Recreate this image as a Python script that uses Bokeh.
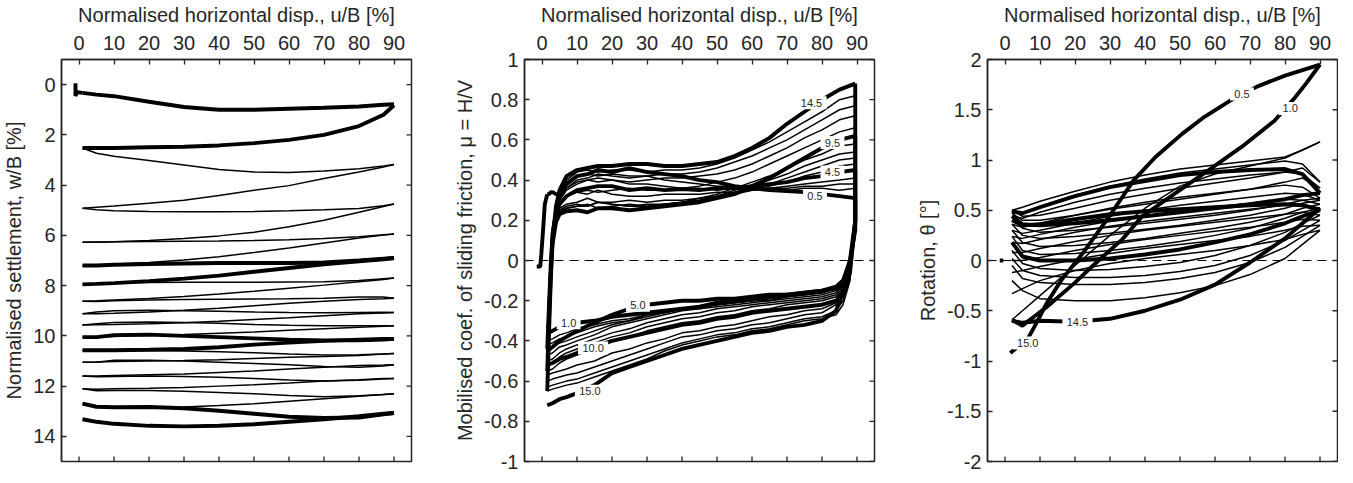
from bokeh.plotting import figure
from bokeh.layouts import row
from bokeh.models import Range1d, FixedTicker, Span, LabelSet, ColumnDataSource
from bokeh.core.properties import value
from bokeh.embed import file_html
from bokeh.resources import INLINE

FONT = "Liberation Sans"
INK = "#262626"

x_title = "Normalised horizontal disp., u/B [%]"
u_ticks = [0, 10, 20, 30, 40, 50, 60, 70, 80, 90]

# ---------------- Panel 1: settlement ----------------
settle_ticks = [0, 2, 4, 6, 8, 10, 12, 14]
settle_u = [1, 5, 10, 20, 30, 40, 50, 60, 70, 80, 87, 90]
settle_start_u = [-1, -1, -0.5, 1]
settle_start_w = [-0.05, 0.45, 0.3, 0.33]
# outgoing half-cycles 0.5 ... 14.5 (u: 0 -> 90)
settle_out = [
    [0.33, 0.40, 0.46, 0.68, 0.89, 1.00, 1.00, 0.96, 0.92, 0.87, 0.80, 0.78],
    [2.52, 2.73, 2.85, 3.02, 3.20, 3.38, 3.48, 3.50, 3.44, 3.35, 3.24, 3.18],
    [4.92, 4.98, 5.02, 5.05, 5.06, 5.06, 5.05, 5.02, 4.98, 4.93, 4.82, 4.75],
    [6.27, 6.27, 6.25, 6.24, 6.23, 6.22, 6.20, 6.17, 6.12, 6.05, 5.98, 5.95],
    [7.20, 7.20, 7.17, 7.14, 7.12, 7.10, 7.10, 7.10, 7.08, 7.00, 6.93, 6.90],
    [7.95, 7.93, 7.90, 7.88, 7.87, 7.87, 7.87, 7.86, 7.85, 7.80, 7.73, 7.70],
    [8.62, 8.63, 8.60, 8.57, 8.55, 8.54, 8.53, 8.52, 8.50, 8.45, 8.45, 8.50],
    [9.12, 9.05, 9.00, 8.98, 9.00, 9.02, 9.05, 9.07, 9.08, 9.07, 9.06, 9.07],
    [9.57, 9.52, 9.47, 9.45, 9.47, 9.50, 9.55, 9.58, 9.60, 9.60, 9.60, 9.60],
    [10.05, 10.05, 9.97, 9.95, 10.00, 10.05, 10.10, 10.15, 10.18, 10.18, 10.15, 10.12],
    [10.57, 10.57, 10.56, 10.58, 10.60, 10.63, 10.67, 10.72, 10.76, 10.75, 10.72, 10.70],
    [11.05, 11.05, 10.97, 10.97, 11.00, 11.05, 11.10, 11.15, 11.22, 11.25, 11.20, 11.15],
    [11.60, 11.63, 11.62, 11.60, 11.62, 11.65, 11.70, 11.76, 11.80, 11.77, 11.72, 11.70],
    [12.10, 12.18, 12.17, 12.17, 12.20, 12.25, 12.30, 12.37, 12.42, 12.38, 12.33, 12.30],
    [12.70, 12.82, 12.84, 12.83, 12.88, 12.98, 13.10, 13.22, 13.27, 13.25, 13.12, 13.07],
]
# return half-cycles 1.0 ... 15.0 (u: 90 -> 0), listed at settle_u
settle_ret = [
    [2.52, 2.52, 2.52, 2.49, 2.47, 2.42, 2.33, 2.20, 2.00, 1.65, 1.20, 0.82],
    [4.92, 4.88, 4.83, 4.72, 4.60, 4.41, 4.20, 4.02, 3.74, 3.48, 3.28, 3.18],
    [6.27, 6.26, 6.25, 6.20, 6.12, 6.02, 5.88, 5.66, 5.40, 5.08, 4.85, 4.75],
    [7.20, 7.18, 7.15, 7.08, 6.98, 6.85, 6.68, 6.50, 6.30, 6.10, 5.99, 5.95],
    [7.95, 7.93, 7.90, 7.82, 7.72, 7.60, 7.45, 7.30, 7.15, 7.03, 6.95, 6.90],
    [8.62, 8.60, 8.57, 8.51, 8.43, 8.33, 8.22, 8.10, 7.98, 7.85, 7.76, 7.70],
    [9.12, 9.12, 9.10, 9.05, 8.98, 8.90, 8.80, 8.70, 8.62, 8.55, 8.52, 8.50],
    [9.57, 9.56, 9.55, 9.52, 9.48, 9.42, 9.35, 9.28, 9.20, 9.12, 9.09, 9.07],
    [10.05, 10.04, 10.02, 9.98, 9.95, 9.90, 9.85, 9.78, 9.72, 9.66, 9.62, 9.60],
    [10.57, 10.57, 10.57, 10.55, 10.52, 10.45, 10.35, 10.27, 10.20, 10.15, 10.12, 10.12],
    [11.05, 11.04, 11.02, 11.00, 10.98, 10.95, 10.90, 10.85, 10.82, 10.78, 10.72, 10.70],
    [11.60, 11.60, 11.58, 11.55, 11.52, 11.46, 11.40, 11.32, 11.25, 11.18, 11.16, 11.15],
    [12.10, 12.12, 12.10, 12.08, 12.05, 12.00, 11.95, 11.88, 11.80, 11.75, 11.70, 11.70],
    [12.70, 12.82, 12.85, 12.84, 12.83, 12.77, 12.70, 12.60, 12.50, 12.40, 12.33, 12.30],
    [13.32, 13.42, 13.50, 13.58, 13.60, 13.58, 13.52, 13.42, 13.32, 13.20, 13.10, 13.07],
]
thick_cycles = [0, 4, 9, 14]   # cycles 1, 5, 10, 15

# ---------------- Panel 2: mobilised friction ----------------
mu_ticks = [-1, -0.8, -0.6, -0.4, -0.2, 0, 0.2, 0.4, 0.6, 0.8, 1]
mu_tick_labels = ["-1", "-0.8", "-0.6", "-0.4", "-0.2", "0", "0.2", "0.4", "0.6", "0.8", "1"]
mu_start_u = [-1.5, -0.5, -0.2, 0.3, 0.8, 1.5]
mu_start = [-0.03, -0.03, 0.03, 0.15, 0.28, 0.33]
mu_u_out = [1.5, 2, 2.5, 3, 4, 5, 7, 10, 13, 16, 20, 25, 30, 35, 40, 45, 50, 55, 60, 65, 70, 75, 80, 85, 89.5]
mu_out = [
    [0.33, 0.33, 0.34, 0.34, 0.33, 0.33, 0.38, 0.42, 0.43, 0.45, 0.44, 0.46, 0.44, 0.43, 0.42, 0.40, 0.39, 0.37, 0.36, 0.35, 0.345, 0.34, 0.33, 0.32, 0.31],
    [-0.36, -0.15, 0.05, 0.17, 0.26, 0.31, 0.36, 0.40, 0.41, 0.43, 0.42, 0.41, 0.42, 0.40, 0.39, 0.38, 0.37, 0.37, 0.36, 0.36, 0.35, 0.36, 0.36, 0.35, 0.36],
    [-0.40, -0.18, 0.02, 0.15, 0.25, 0.30, 0.35, 0.38, 0.40, 0.39, 0.40, 0.38, 0.38, 0.37, 0.36, 0.36, 0.35, 0.36, 0.35, 0.36, 0.36, 0.37, 0.37, 0.38, 0.38],
    [-0.42, -0.20, 0.00, 0.14, 0.24, 0.28, 0.32, 0.34, 0.33, 0.35, 0.33, 0.32, 0.32, 0.33, 0.33, 0.33, 0.34, 0.34, 0.35, 0.36, 0.37, 0.38, 0.39, 0.40, 0.41],
    [-0.44, -0.22, -0.02, 0.13, 0.24, 0.28, 0.32, 0.35, 0.36, 0.37, 0.37, 0.35, 0.36, 0.35, 0.355, 0.35, 0.36, 0.36, 0.37, 0.38, 0.39, 0.41, 0.42, 0.44, 0.45],
    [-0.45, -0.22, -0.03, 0.12, 0.22, 0.26, 0.28, 0.29, 0.31, 0.29, 0.29, 0.30, 0.29, 0.30, 0.30, 0.31, 0.32, 0.33, 0.35, 0.37, 0.39, 0.42, 0.44, 0.47, 0.48],
    [-0.47, -0.24, -0.04, 0.11, 0.21, 0.25, 0.27, 0.28, 0.27, 0.29, 0.28, 0.27, 0.28, 0.28, 0.29, 0.30, 0.32, 0.34, 0.36, 0.38, 0.41, 0.44, 0.47, 0.50, 0.51],
    [-0.50, -0.25, -0.05, 0.10, 0.20, 0.24, 0.26, 0.27, 0.28, 0.26, 0.27, 0.28, 0.27, 0.28, 0.29, 0.30, 0.32, 0.35, 0.37, 0.40, 0.43, 0.47, 0.50, 0.53, 0.54],
    [-0.52, -0.27, -0.06, 0.09, 0.20, 0.24, 0.26, 0.27, 0.27, 0.29, 0.28, 0.27, 0.27, 0.28, 0.29, 0.31, 0.33, 0.36, 0.39, 0.42, 0.46, 0.50, 0.53, 0.57, 0.58],
    [-0.55, -0.28, -0.07, 0.08, 0.19, 0.23, 0.245, 0.25, 0.24, 0.26, 0.26, 0.25, 0.26, 0.27, 0.28, 0.29, 0.31, 0.33, 0.37, 0.41, 0.46, 0.51, 0.56, 0.60, 0.62],
    [-0.52, -0.27, -0.06, 0.10, 0.22, 0.28, 0.32, 0.34, 0.35, 0.34, 0.35, 0.36, 0.35, 0.35, 0.36, 0.37, 0.39, 0.41, 0.44, 0.48, 0.52, 0.56, 0.60, 0.64, 0.66],
    [-0.57, -0.30, -0.08, 0.09, 0.22, 0.30, 0.36, 0.39, 0.40, 0.41, 0.40, 0.39, 0.40, 0.41, 0.41, 0.42, 0.43, 0.45, 0.48, 0.52, 0.56, 0.61, 0.65, 0.70, 0.72],
    [-0.60, -0.32, -0.09, 0.09, 0.23, 0.32, 0.39, 0.42, 0.43, 0.42, 0.43, 0.42, 0.42, 0.43, 0.43, 0.44, 0.46, 0.49, 0.52, 0.56, 0.60, 0.65, 0.70, 0.75, 0.77],
    [-0.63, -0.34, -0.10, 0.09, 0.24, 0.33, 0.40, 0.44, 0.45, 0.44, 0.45, 0.45, 0.44, 0.45, 0.45, 0.46, 0.48, 0.51, 0.55, 0.59, 0.64, 0.69, 0.74, 0.80, 0.82],
    [-0.65, -0.36, -0.10, 0.10, 0.27, 0.35, 0.42, 0.45, 0.46, 0.47, 0.47, 0.48, 0.48, 0.47, 0.47, 0.48, 0.49, 0.52, 0.56, 0.61, 0.68, 0.74, 0.80, 0.85, 0.88],
]
mu_u_ret = [89.5, 89.5, 88, 86, 84, 80, 75, 70, 65, 60, 55, 50, 45, 40, 35, 30, 25, 20, 15, 10, 7, 5, 3, 1.5]
mu_ret = [
    [0.31, 0.15, 0.00, -0.10, -0.13, -0.15, -0.16, -0.17, -0.18, -0.19, -0.20, -0.21, -0.23, -0.24, -0.25, -0.26, -0.27, -0.28, -0.30, -0.31, -0.32, -0.33, -0.35, -0.36],
    [0.36, 0.15, -0.02, -0.11, -0.14, -0.16, -0.17, -0.18, -0.19, -0.20, -0.21, -0.22, -0.23, -0.24, -0.26, -0.27, -0.29, -0.30, -0.32, -0.34, -0.36, -0.37, -0.39, -0.40],
    [0.38, 0.15, -0.02, -0.11, -0.14, -0.16, -0.17, -0.18, -0.20, -0.20, -0.21, -0.22, -0.24, -0.24, -0.26, -0.27, -0.30, -0.31, -0.33, -0.36, -0.38, -0.39, -0.41, -0.42],
    [0.41, 0.16, -0.03, -0.12, -0.14, -0.16, -0.17, -0.18, -0.19, -0.20, -0.21, -0.22, -0.23, -0.24, -0.26, -0.28, -0.30, -0.32, -0.35, -0.38, -0.40, -0.41, -0.43, -0.44],
    [0.45, 0.18, -0.03, -0.12, -0.14, -0.15, -0.16, -0.17, -0.17, -0.18, -0.19, -0.19, -0.20, -0.20, -0.21, -0.22, -0.24, -0.27, -0.31, -0.35, -0.38, -0.40, -0.43, -0.45],
    [0.48, 0.18, -0.04, -0.13, -0.15, -0.17, -0.18, -0.19, -0.20, -0.21, -0.22, -0.23, -0.24, -0.25, -0.27, -0.29, -0.31, -0.33, -0.37, -0.40, -0.42, -0.43, -0.46, -0.47],
    [0.51, 0.18, -0.04, -0.13, -0.16, -0.18, -0.19, -0.20, -0.21, -0.22, -0.23, -0.24, -0.26, -0.27, -0.29, -0.31, -0.34, -0.36, -0.39, -0.42, -0.44, -0.46, -0.49, -0.50],
    [0.54, 0.19, -0.05, -0.14, -0.17, -0.19, -0.20, -0.21, -0.22, -0.23, -0.25, -0.26, -0.28, -0.29, -0.31, -0.33, -0.36, -0.38, -0.41, -0.44, -0.46, -0.48, -0.51, -0.52],
    [0.58, 0.19, -0.05, -0.15, -0.18, -0.20, -0.21, -0.22, -0.24, -0.25, -0.27, -0.28, -0.30, -0.31, -0.33, -0.35, -0.38, -0.40, -0.44, -0.47, -0.49, -0.51, -0.54, -0.55],
    [0.62, 0.20, -0.06, -0.16, -0.20, -0.22, -0.23, -0.24, -0.25, -0.26, -0.28, -0.29, -0.31, -0.32, -0.34, -0.36, -0.38, -0.40, -0.43, -0.46, -0.48, -0.49, -0.51, -0.52],
    [0.66, 0.20, -0.07, -0.17, -0.21, -0.24, -0.25, -0.27, -0.28, -0.30, -0.32, -0.33, -0.35, -0.36, -0.39, -0.41, -0.44, -0.46, -0.50, -0.52, -0.54, -0.55, -0.56, -0.57],
    [0.72, 0.20, -0.08, -0.18, -0.22, -0.26, -0.27, -0.29, -0.31, -0.32, -0.34, -0.35, -0.37, -0.38, -0.41, -0.44, -0.47, -0.50, -0.53, -0.56, -0.57, -0.58, -0.59, -0.60],
    [0.77, 0.20, -0.09, -0.20, -0.25, -0.28, -0.29, -0.31, -0.33, -0.34, -0.36, -0.37, -0.39, -0.41, -0.44, -0.47, -0.50, -0.53, -0.56, -0.59, -0.60, -0.61, -0.62, -0.63],
    [0.82, 0.20, -0.10, -0.22, -0.27, -0.29, -0.30, -0.32, -0.34, -0.35, -0.37, -0.38, -0.40, -0.42, -0.45, -0.49, -0.52, -0.55, -0.58, -0.61, -0.62, -0.63, -0.64, -0.65],
    [0.88, 0.20, 0.00, -0.16, -0.25, -0.30, -0.32, -0.33, -0.35, -0.36, -0.38, -0.40, -0.42, -0.44, -0.47, -0.50, -0.53, -0.56, -0.62, -0.66, -0.68, -0.69, -0.71, -0.72],
]
mu_lab_text = ["14.5", "9.5", "4.5", "0.5", "5.0", "1.0", "10.0", "15.0"]
mu_lab_u = [77, 83, 83, 78, 27.4, 7.6, 14.6, 13.7]
mu_lab_v = [0.785, 0.587, 0.44, 0.32, -0.223, -0.31, -0.435, -0.65]

# ---------------- Panel 3: rotation ----------------
rot_ticks = [-2, -1.5, -1, -0.5, 0, 0.5, 1, 1.5, 2]
rot_tick_labels = ["-2", "-1.5", "-1", "-0.5", "0", "0.5", "1", "1.5", "2"]
rot_start_u = [-1.5, -0.5]
rot_start = [0.0, 0.0]
rotA_u = [1.5, 4, 6.5, 9, 12, 16, 22.6, 30, 36.8, 43, 50.6, 57, 64.8, 72, 80, 90]
rotA = [-0.92, -0.85, -0.78, -0.62, -0.42, -0.2, 0.09, 0.45, 0.8, 1.03, 1.26, 1.43, 1.6, 1.73, 1.84, 1.95]
rotB_u = [90, 86, 82.8, 77, 67.6, 58.2, 48.7, 39.2, 33.5, 28, 23, 20, 12, 6, 5, 2]
rotB = [1.95, 1.76, 1.62, 1.39, 1.13, 0.9, 0.67, 0.44, 0.21, 0.04, -0.12, -0.22, -0.46, -0.62, -0.65, -0.59]
rot_u = [2, 5, 10, 20, 30, 40, 50, 60, 70, 80, 85, 90]
# outgoing half-cycles 1.5 ... 14.5
rot_out = [
    [-0.59, -0.50, -0.35, -0.05, 0.25, 0.52, 0.74, 0.86, 0.94, 1.02, 1.10, 1.18],
    [0.50, 0.44, 0.45, 0.52, 0.60, 0.66, 0.72, 0.77, 0.82, 0.88, 0.92, 0.78],
    [0.47, 0.40, 0.40, 0.45, 0.51, 0.56, 0.61, 0.66, 0.71, 0.78, 0.82, 0.72],
    [0.44, 0.36, 0.35, 0.37, 0.40, 0.44, 0.48, 0.52, 0.56, 0.61, 0.65, 0.67],
    [0.49, 0.32, 0.28, 0.30, 0.33, 0.37, 0.41, 0.45, 0.50, 0.56, 0.60, 0.62],
    [0.36, 0.25, 0.22, 0.24, 0.27, 0.31, 0.35, 0.40, 0.45, 0.52, 0.57, 0.60],
    [0.30, 0.18, 0.14, 0.15, 0.18, 0.22, 0.27, 0.32, 0.38, 0.46, 0.52, 0.56],
    [0.24, 0.10, 0.06, 0.07, 0.10, 0.14, 0.19, 0.25, 0.32, 0.42, 0.48, 0.52],
    [0.18, 0.04, 0.00, 0.00, 0.02, 0.06, 0.11, 0.18, 0.26, 0.37, 0.44, 0.50],
    [0.10, -0.03, -0.08, -0.10, -0.09, -0.06, -0.02, 0.05, 0.15, 0.28, 0.37, 0.45],
    [0.02, -0.10, -0.15, -0.17, -0.17, -0.15, -0.11, -0.05, 0.05, 0.20, 0.30, 0.40],
    [-0.05, -0.18, -0.22, -0.24, -0.24, -0.22, -0.18, -0.12, -0.02, 0.13, 0.24, 0.35],
    [-0.20, -0.30, -0.38, -0.40, -0.40, -0.37, -0.32, -0.25, -0.14, 0.02, 0.16, 0.30],
    [-0.60, -0.62, -0.60, -0.61, -0.58, -0.50, -0.39, -0.24, -0.02, 0.22, 0.37, 0.52],
]
# return half-cycles 2.0 ... 14.0
rot_ret = [
    [0.50, 0.53, 0.59, 0.69, 0.78, 0.85, 0.91, 0.95, 0.99, 1.03, 1.10, 1.18],
    [0.47, 0.47, 0.54, 0.65, 0.74, 0.81, 0.87, 0.91, 0.95, 0.99, 0.96, 0.78],
    [0.44, 0.42, 0.48, 0.58, 0.66, 0.72, 0.77, 0.81, 0.85, 0.88, 0.86, 0.72],
    [0.49, 0.47, 0.53, 0.64, 0.73, 0.79, 0.85, 0.88, 0.90, 0.91, 0.86, 0.67],
    [0.36, 0.33, 0.37, 0.45, 0.52, 0.58, 0.63, 0.67, 0.71, 0.75, 0.73, 0.62],
    [0.30, 0.27, 0.30, 0.37, 0.44, 0.50, 0.55, 0.59, 0.63, 0.67, 0.66, 0.60],
    [0.24, 0.22, 0.26, 0.33, 0.39, 0.44, 0.49, 0.53, 0.57, 0.61, 0.60, 0.56],
    [0.18, 0.17, 0.21, 0.28, 0.34, 0.39, 0.43, 0.47, 0.51, 0.55, 0.56, 0.52],
    [0.40, 0.35, 0.36, 0.41, 0.46, 0.49, 0.51, 0.53, 0.55, 0.56, 0.55, 0.50],
    [0.08, 0.08, 0.12, 0.19, 0.25, 0.30, 0.34, 0.38, 0.42, 0.46, 0.48, 0.45],
    [0.00, 0.00, 0.03, 0.10, 0.16, 0.21, 0.25, 0.29, 0.33, 0.38, 0.41, 0.40],
    [-0.12, -0.10, -0.06, 0.01, 0.07, 0.12, 0.16, 0.20, 0.24, 0.30, 0.34, 0.35],
    [-0.33, -0.28, -0.20, -0.10, -0.03, 0.02, 0.06, 0.10, 0.15, 0.21, 0.26, 0.30],
]
rot_thick_out = [3, 8, 13]
rot_thick_ret = [3, 8]
rot_lab_text = ["0.5", "1.0", "14.5", "15.0"]
rot_lab_u = [67.7, 81.5, 20.7, 6.5]
rot_lab_v = [1.656, 1.513, -0.61, -0.82]

THIN = 1.5
THICK = 3.9
FRAME_W = 350
FRAME_H = 402
TICK = 5


def style_axis(ax, top=False):
    ax.axis_line_color = INK
    ax.axis_line_width = 1.5
    ax.major_tick_line_color = INK
    ax.major_tick_line_width = 1.3
    ax.major_tick_in = TICK
    ax.major_tick_out = 0
    ax.minor_tick_line_color = None
    ax.major_label_text_font = FONT
    ax.major_label_text_color = INK
    ax.major_label_text_font_size = "20px"
    ax.major_label_standoff = 10 if top else 6
    ax.axis_label_text_font = FONT
    ax.axis_label_text_font_size = "20px"
    ax.axis_label_text_font_style = "normal"
    ax.axis_label_text_color = INK
    ax.axis_label_standoff = 7 if top else 5


def make_fig(xr, yr, yticks, ylabel, ylabels, left, right):
    p = figure(frame_width=FRAME_W, frame_height=FRAME_H, x_range=Range1d(*xr), y_range=Range1d(*yr),
               x_axis_location="above", output_backend="svg", toolbar_location=None,
               min_border_left=left, min_border_right=right, min_border_top=5,
               min_border_bottom=12)
    p.background_fill_color = "white"
    p.border_fill_color = "white"
    p.outline_line_color = INK
    p.outline_line_width = 1.5
    p.grid.visible = False
    xax = p.xaxis[0]
    yax = p.yaxis[0]
    xax.ticker = FixedTicker(ticks=u_ticks)
    xax.axis_label = x_title
    yax.ticker = FixedTicker(ticks=yticks)
    if ylabels is not None:
        yax.major_label_overrides = dict(zip(yticks, ylabels))
    yax.axis_label = ylabel
    style_axis(xax, top=True)
    style_axis(yax)
    # inward ticks on the bottom and right edges of the box
    dy = TICK * (yr[1] - yr[0]) / FRAME_H
    dx = TICK * (xr[1] - xr[0]) / FRAME_W
    n, m = len(u_ticks), len(yticks)
    p.segment(x0=u_ticks, y0=[yr[0]] * n, x1=u_ticks, y1=[yr[0] + dy] * n,
              line_color=INK, line_width=1.3)
    p.segment(x0=[xr[1]] * m, y0=yticks, x1=[xr[1] - dx] * m, y1=yticks,
              line_color=INK, line_width=1.3)
    return p


def add_labels(p, xs, ys, texts):
    widths = [6.3 * len(t) + 5 for t in texts]
    p.rect(x=xs, y=ys, width=widths, height=13, width_units="screen", height_units="screen",
           fill_color="white", line_color=None)
    src = ColumnDataSource(dict(x=xs, y=ys, t=texts))
    p.add_layout(LabelSet(x="x", y="y", text="t", source=src, text_font=value(FONT),
                          text_font_size="11px", text_color=INK, text_align="center",
                          text_baseline="middle"))


def zero_line(p):
    p.add_layout(Span(location=0, dimension="width", line_color="black", line_width=1.2,
                      line_dash="9 6", level="underlay"))


XR = (-5, 95)

# ---- panel 1
p1 = make_fig(XR, (15, -1), settle_ticks, "Normalised settlement, w/B [%]", None, 58, 10)
thin_x, thin_y, thick_x, thick_y = [], [], [], []
for i in range(15):
    for ys in (settle_out[i], settle_ret[i]):
        if i in thick_cycles:
            thick_x.append(settle_u); thick_y.append(ys)
        else:
            thin_x.append(settle_u); thin_y.append(ys)
thick_x.append(settle_start_u); thick_y.append(settle_start_w)
p1.multi_line(thin_x, thin_y, line_color="black", line_width=THIN)
p1.multi_line(thick_x, thick_y, line_color="black", line_width=THICK)

# ---- panel 2
p2 = make_fig(XR, (-1, 1), mu_ticks, "Mobilised coef. of sliding friction, \u03bc = H/V",
              mu_tick_labels, 103, 10)
zero_line(p2)
thin_x, thin_y, thick_x, thick_y = [], [], [], []
for i in range(15):
    if i in thick_cycles:
        thick_x += [mu_u_out, mu_u_ret]; thick_y += [mu_out[i], mu_ret[i]]
    else:
        thin_x += [mu_u_out, mu_u_ret]; thin_y += [mu_out[i], mu_ret[i]]
thick_x.append(mu_start_u); thick_y.append(mu_start)
p2.multi_line(thin_x, thin_y, line_color="black", line_width=THIN)
p2.multi_line(thick_x, thick_y, line_color="black", line_width=THICK)
add_labels(p2, mu_lab_u, mu_lab_v, mu_lab_text)

# ---- panel 3
p3 = make_fig(XR, (-2, 2), rot_ticks, "Rotation, \u03b8 [\u00b0]", rot_tick_labels, 103, 1)
zero_line(p3)
thin_x, thin_y, thick_x, thick_y = [], [], [], []
for i, ys in enumerate(rot_out):
    if i in rot_thick_out:
        thick_x.append(rot_u); thick_y.append(ys)
    else:
        thin_x.append(rot_u); thin_y.append(ys)
for i, ys in enumerate(rot_ret):
    if i in rot_thick_ret:
        thick_x.append(rot_u); thick_y.append(ys)
    else:
        thin_x.append(rot_u); thin_y.append(ys)
thick_x += [rotA_u, rotB_u, rot_start_u]
thick_y += [rotA, rotB, rot_start]
p3.multi_line(thin_x, thin_y, line_color="black", line_width=THIN)
p3.multi_line(thick_x, thick_y, line_color="black", line_width=THICK)
add_labels(p3, rot_lab_u, rot_lab_v, rot_lab_text)

layout = row(p1, p2, p3)
open("out.html", "w").write(file_html(layout, INLINE))
